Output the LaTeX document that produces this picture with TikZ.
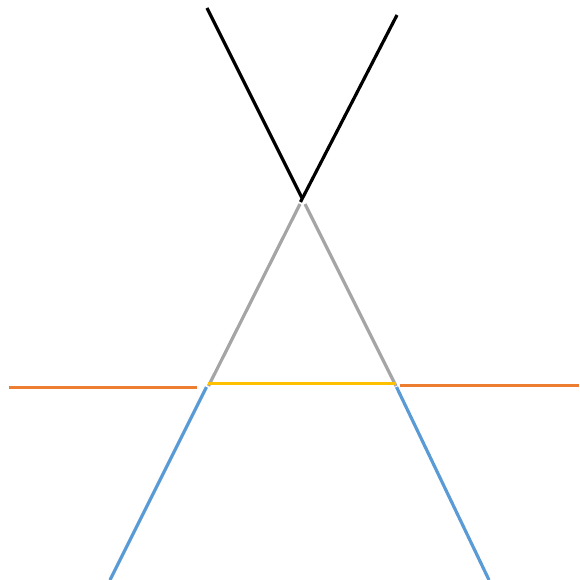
\documentclass[tikz,border=0pt]{standalone}
\definecolor{lgray}{HTML}{A5A5A5}
\definecolor{lblue}{HTML}{5B9BD5}
\definecolor{lorange}{HTML}{ED7D31}
\definecolor{lyellow}{HTML}{FFC000}
\tikzset{
  seg/.style={line width=3.2pt},
  blackseg/.style={seg, draw=black},
  grayseg/.style={seg, draw=lgray},
  blueseg/.style={seg, draw=lblue},
  orangeseg/.style={seg, draw=lorange},
  yellowseg/.style={line width=3.4pt, draw=lyellow},
}
\begin{document}
\begin{tikzpicture}[x=1pt,y=-1pt]
\useasboundingbox (0,0) rectangle (579,580);
% black V
\coordinate (bl1) at (207,8);
\coordinate (bl2) at (302.5,199);
\coordinate (br1) at (397,15);
\coordinate (br2) at (300.5,202);
% gray
\coordinate (gtl) at (300,204);
\coordinate (gbl) at (208.5,386);
\coordinate (gtr) at (305,204);
\coordinate (gbr) at (396,386);
% blue
\coordinate (ubl1) at (206.5,387);
\coordinate (ubl2) at (110,580);
\coordinate (ubr1) at (396.5,387);
\coordinate (ubr2) at (489,580);
% orange and yellow
\coordinate (ol1) at (9,387.5);
\coordinate (ol2) at (197,387.5);
\coordinate (or1) at (399.5,385.5);
\coordinate (or2) at (579,385.5);
\coordinate (y1) at (207.5,383.5);
\coordinate (y2) at (396,383.5);
\draw[blackseg] (bl1) -- (bl2);
\draw[blackseg] (br1) -- (br2);
\draw[grayseg] (gtl) -- (gbl);
\draw[grayseg] (gtr) -- (gbr);
\draw[blueseg] (ubl1) -- (ubl2);
\draw[blueseg] (ubr1) -- (ubr2);
\draw[orangeseg] (ol1) -- (ol2);
\draw[orangeseg] (or1) -- (or2);
\draw[yellowseg] (y1) -- (y2);
\end{tikzpicture}
\end{document}
